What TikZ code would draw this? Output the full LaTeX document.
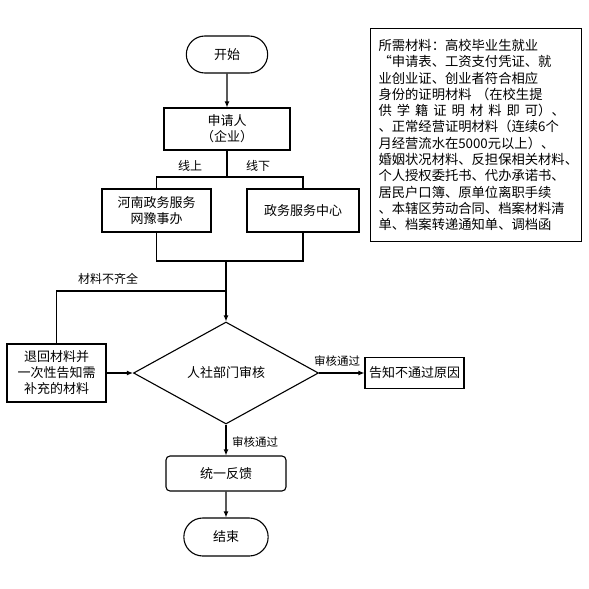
\documentclass[tikz,border=0pt]{standalone}
\usepackage{fontspec}
\setmainfont{Noto Sans CJK SC}
\usetikzlibrary{shapes.geometric,shapes.misc,arrows.meta}

\begin{document}
\begin{tikzpicture}[x=1pt, y=-1pt, line width=1.1pt,
    boxStyle/.style={draw, rectangle, inner sep=2pt, align=center, font=\fontsize{13}{16}\selectfont},
    termStyle/.style={draw, rounded rectangle, minimum height=37pt, font=\fontsize{13}{16}\selectfont},
    labelStyle/.style={inner sep=1pt, font=\fontsize{12}{14}\selectfont},
    passStyle/.style={inner sep=1pt, font=\fontsize{11.5}{14}\selectfont},
    arrowStyle/.style={-{Latex[length=6pt, width=5pt]}}]
    \fill[white] (0,0) rectangle (589,589);
    \useasboundingbox (0,0) rectangle (589,589);

    \node[termStyle, minimum width=88pt](start) at (227, 54.5) {开始};
    \node[boxStyle, minimum width=126pt, minimum height=42pt](apply) at (227, 129) {申请人\\（企业）};
    \node[boxStyle, minimum width=109pt, minimum height=43pt](online) at (156.5, 210.5) {河南政务服务\\网豫事办};
    \node[boxStyle, minimum width=112pt, minimum height=43pt](offline) at (303, 210.5) {政务服务中心};
    \node[draw, diamond, aspect=1.8, inner sep=0pt, minimum width=185pt, minimum height=102pt,
        font=\fontsize{13}{16}\selectfont](review) at (226, 373) {人社部门审核};
    \node[boxStyle, minimum width=99pt, minimum height=58pt](back) at (56.5, 373) {退回材料并\\一次性告知需\\补充的材料};
    \node[boxStyle, minimum width=99pt, minimum height=31pt](reject) at (414.5, 373) {告知不通过原因};
    \node[boxStyle, rounded corners=4pt, minimum width=120pt, minimum height=35pt](feedback) at (226, 473.5) {统一反馈};
    \node[termStyle, minimum width=91pt, minimum height=38pt](stop) at (226, 537) {结束};

    \coordinate (split) at (227, 177);
    \coordinate (merge) at (226, 261);
    \coordinate (join) at (226, 291);

    \node[labelStyle](onlineLabel) at (190, 166) {线上};
    \node[labelStyle](offlineLabel) at (258, 166) {线下};
    \node[labelStyle](lackLabel) at (108, 279) {材料不齐全};
    \node[passStyle](passRight) at (337, 361) {审核通过};
    \node[passStyle](passDown) at (255, 442) {审核通过};

    \draw[arrowStyle] (start) -- (apply);
    \draw (apply) -- (split);
    \draw (online.north) |- (split) -| (offline.north);
    \draw (online.south) |- (merge) -| (offline.south);
    \draw[arrowStyle] (merge) -- (review.north);
    \draw (back.north) |- (join);
    \draw[arrowStyle] (back) -- (review);
    \draw[arrowStyle] (review) -- (reject);
    \draw[arrowStyle] (review) -- (feedback);
    \draw[arrowStyle] (feedback) -- (stop);

    \node[draw, anchor=north west, minimum width=211pt, minimum height=213pt, text width=195pt,
        inner xsep=8pt, align=left, font=\fontsize{13.3}{16.3}\selectfont](materials) at (370, 28)
        {所需材料：高校毕业生就业\\
        “申请表、工资支付凭证、就\\
        业创业证、创业者符合相应\\
        身份的证明材料 （在校生提\\
        供\hspace{5pt}学\hspace{5pt}籍\hspace{5pt}证\hspace{5pt}明\hspace{5pt}材\hspace{5pt}料\hspace{5pt}即\hspace{5pt}可）、\\
        、正常经营证明材料（连续6个\\
        月经营流水在5000元以上）、\\
        婚姻状况材料、反担保相关材料、\\
        个人授权委托书、代办承诺书、\\
        居民户口簿、原单位离职手续\\
        、本辖区劳动合同、档案材料清\\
        单、档案转递通知单、调档函};
\end{tikzpicture}
\end{document}
